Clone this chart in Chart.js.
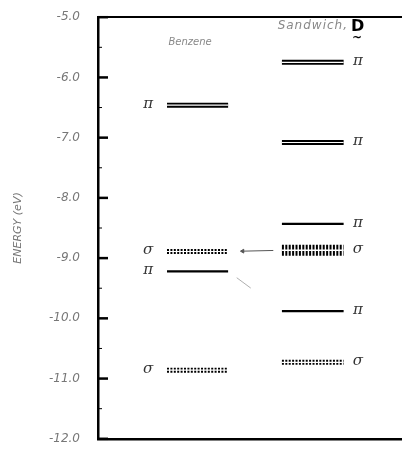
<!DOCTYPE html>
<html>
<head>
<meta charset="utf-8">
<script src="https://cdn.jsdelivr.net/npm/chart.js@4/dist/chart.umd.min.js"></script>
<style>
  html, body { margin: 0; padding: 0; background: #fff; }
  #wrap { width: 402px; height: 456px; }
</style>
</head>
<body>
<div id="wrap"><canvas id="levels"></canvas></div>
<script>
// orbital energies (eV)
const benzeneEnergy = [-6.46, -8.89, -9.22, -10.86];
const benzeneSym = ['π', 'σ', 'π', 'σ'];
const benzeneLines = [2, 2, 1, 2];

const sandwichEnergy = [-5.75, -7.08, -8.43, -8.87, -9.88, -10.73];
const sandwichSym = ['π', 'π', 'π', 'σ', 'π', 'σ'];
const sandwichLines = [2, 2, 1, 4, 1, 2];

const yTicks = [-5, -6, -7, -8, -9, -10, -11, -12];

// column placement on a 0..10 x scale
const benzeneCol = { from: 2.27, to: 4.28, symX: 1.65 };
const sandwichCol = { from: 6.05, to: 8.08, symX: 8.55 };

function levelSets(energies, lines, syms, col) {
    const sets = [];
    energies.forEach((e, i) => {
        const pts = [{ x: col.from, y: e }, { x: col.to, y: e }];
        const n = lines[i];
        const sigma = syms[i] === 'σ';
        const w = n === 1 ? 2.2 : (n === 2 ? 5 : 11);
        sets.push({
            data: pts, borderColor: '#000', borderWidth: w, order: 2,
            borderDash: sigma ? [2, 1.4] : [], pointRadius: 0
        });
        if (n > 1) {
            // white split so the level reads as several lines
            sets.push({
                data: pts, borderColor: '#fff', borderWidth: n > 2 ? 1.5 : 1.2,
                order: 1, pointRadius: 0
            });
        }
    });
    return sets;
}

// partial correlation line between two levels, t0..t1 along the gap
function linkSet(eFrom, eTo, t0, t1, color, width, arrow) {
    const x0 = benzeneCol.to, x1 = sandwichCol.from;
    const at = t => ({ x: x0 + (x1 - x0) * t, y: eFrom + (eTo - eFrom) * t });
    return {
        data: [at(t0), at(t1)], borderColor: color, borderWidth: width,
        backgroundColor: color, order: 0,
        pointStyle: 'triangle', rotation: 270,
        pointRadius: arrow ? [2.2, 0] : 0
    };
}

const datasets = [
    ...levelSets(benzeneEnergy, benzeneLines, benzeneSym, benzeneCol),
    ...levelSets(sandwichEnergy, sandwichLines, sandwichSym, sandwichCol),
    linkSet(benzeneEnergy[1], sandwichEnergy[3], 0.27, 0.84, '#555', 1, true),
    linkSet(benzeneEnergy[2], sandwichEnergy[4], 0.16, 0.42, '#999', 0.8, false)
];

const textPlugin = {
    id: 'textPlugin',
    afterDraw(chart) {
        const ctx = chart.ctx;
        const x = chart.scales.x, y = chart.scales.y;
        ctx.save();
        // inward tick marks
        ctx.strokeStyle = '#000';
        y.ticks.forEach(t => {
            const py = y.getPixelForValue(t.value);
            const major = Number.isInteger(t.value);
            ctx.lineWidth = major ? 2.5 : 1;
            ctx.beginPath();
            ctx.moveTo(chart.chartArea.left, py);
            ctx.lineTo(chart.chartArea.left + (major ? 10 : 4), py);
            ctx.stroke();
        });
        // symmetry labels
        ctx.fillStyle = '#333';
        ctx.font = 'italic 15px "DejaVu Serif"';
        ctx.textAlign = 'center';
        ctx.textBaseline = 'middle';
        benzeneEnergy.forEach((e, i) => {
            ctx.fillText(benzeneSym[i], x.getPixelForValue(benzeneCol.symX), y.getPixelForValue(e) - 1);
        });
        sandwichEnergy.forEach((e, i) => {
            ctx.fillText(sandwichSym[i], x.getPixelForValue(sandwichCol.symX), y.getPixelForValue(e) - 1);
        });
        // column titles
        ctx.fillStyle = '#888';
        ctx.font = 'italic 10px "DejaVu Sans"';
        ctx.fillText('Benzene', x.getPixelForValue(3.03), 42);
        ctx.textAlign = 'right';
        ctx.font = 'italic 12px "DejaVu Sans"';
        ctx.letterSpacing = '1px';
        ctx.fillText('Sandwich,', 348, 26);
        ctx.letterSpacing = '0px';
        ctx.fillStyle = '#000';
        ctx.textAlign = 'left';
        ctx.font = 'bold 16px "DejaVu Sans"';
        ctx.fillText('D', 351, 27);
        ctx.font = 'bold 12px "DejaVu Sans"';
        ctx.fillText('~', 352, 38);
        ctx.restore();
    }
};

new Chart(document.getElementById('levels'), {
    type: 'line',
    data: { datasets },
    plugins: [textPlugin],
    options: {
        responsive: true,
        maintainAspectRatio: false,
        animation: false,
        layout: { autoPadding: false, padding: { top: 16, right: 0, bottom: 0, left: 0 } },
        plugins: { legend: { display: false }, tooltip: { enabled: false } },
        scales: {
            x: {
                type: 'linear', min: 0, max: 10,
                ticks: { display: false },
                grid: { display: false },
                border: { color: '#000', width: 2.5 },
                afterFit: s => { s.height = 8; }
            },
            x2: {
                type: 'linear', position: 'top', min: 0, max: 10,
                ticks: { display: false },
                grid: { display: false },
                border: { color: '#000', width: 2 },
                afterFit: s => { s.height = 0; }
            },
            y: {
                type: 'linear', min: -12, max: -5,
                afterBuildTicks: s => {
                    const t = [];
                    yTicks.forEach(v => { t.push({ value: v }); if (v > -12) t.push({ value: v - 0.5 }); });
                    s.ticks = t;
                },
                ticks: {
                    padding: 10,
                    color: '#777',
                    font: { family: 'DejaVu Sans', size: 12, style: 'italic' },
                    callback: v => Number.isInteger(v) ? v.toFixed(1) : ''
                },
                grid: { display: false },
                border: { color: '#000', width: 2.5 },
                title: {
                    display: true, text: 'ENERGY (eV)', color: '#777',
                    font: { family: 'DejaVu Sans', size: 11, style: 'italic' },
                    padding: { top: 12 }
                },
                afterFit: s => { s.width = 98; }
            }
        }
    }
});
</script>
</body>
</html>
